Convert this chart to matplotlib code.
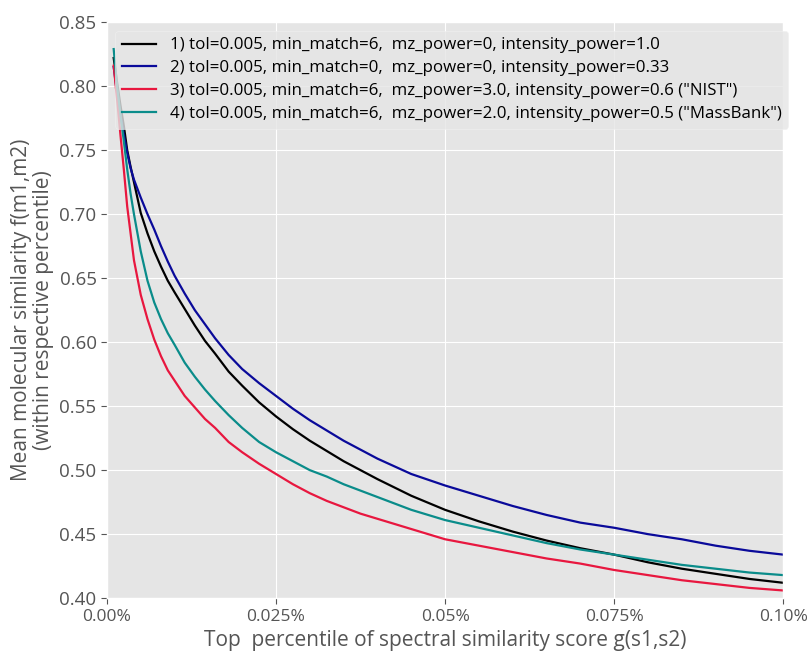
import matplotlib
matplotlib.use("Agg")
import matplotlib.pyplot as plt

# top percentile (in %) and mean molecular similarity for each setting
percentile = [0.001, 0.0015, 0.002, 0.0025, 0.003, 0.0035, 0.004, 0.005, 0.006, 0.007,
              0.008, 0.009, 0.010, 0.0115, 0.013, 0.0145, 0.016, 0.018, 0.020, 0.0225,
              0.025, 0.0275, 0.030, 0.0325, 0.035, 0.0375, 0.040, 0.045, 0.050, 0.055,
              0.060, 0.065, 0.070, 0.075, 0.080, 0.085, 0.090, 0.095, 0.100]
sim_default = [0.822, 0.803, 0.785, 0.769, 0.750, 0.737, 0.725, 0.701, 0.685, 0.671,
               0.659, 0.648, 0.639, 0.626, 0.613, 0.601, 0.591, 0.577, 0.566, 0.553,
               0.542, 0.532, 0.523, 0.515, 0.507, 0.500, 0.493, 0.480, 0.469, 0.460,
               0.452, 0.445, 0.439, 0.434, 0.428, 0.423, 0.419, 0.415, 0.412]
sim_power033 = [0.815, 0.795, 0.777, 0.762, 0.748, 0.736, 0.727, 0.713, 0.700, 0.688,
                0.675, 0.663, 0.652, 0.638, 0.625, 0.614, 0.603, 0.590, 0.579, 0.568,
                0.558, 0.548, 0.539, 0.531, 0.523, 0.516, 0.509, 0.497, 0.488, 0.480,
                0.472, 0.465, 0.459, 0.455, 0.450, 0.446, 0.441, 0.437, 0.434]
sim_nist = [0.816, 0.790, 0.762, 0.735, 0.706, 0.685, 0.664, 0.637, 0.618, 0.602,
            0.589, 0.578, 0.570, 0.558, 0.549, 0.540, 0.533, 0.522, 0.514, 0.505,
            0.497, 0.489, 0.482, 0.476, 0.471, 0.466, 0.462, 0.454, 0.446, 0.441,
            0.436, 0.431, 0.427, 0.422, 0.418, 0.414, 0.411, 0.408, 0.406]
sim_massbank = [0.829, 0.800, 0.778, 0.757, 0.735, 0.716, 0.700, 0.671, 0.648, 0.631,
                0.618, 0.607, 0.598, 0.584, 0.573, 0.563, 0.554, 0.543, 0.533, 0.522,
                0.514, 0.507, 0.500, 0.495, 0.489, 0.484, 0.479, 0.469, 0.461, 0.455,
                0.449, 0.443, 0.438, 0.434, 0.430, 0.426, 0.423, 0.420, 0.418]

labels = [
    '1) tol=0.005, min_match=6,  mz_power=0, intensity_power=1.0',
    '2) tol=0.005, min_match=0,  mz_power=0, intensity_power=0.33',
    '3) tol=0.005, min_match=6,  mz_power=3.0, intensity_power=0.6 ("NIST")',
    '4) tol=0.005, min_match=6,  mz_power=2.0, intensity_power=0.5 ("MassBank")',
]
xticks = [0, 0.025, 0.05, 0.075, 0.1]
xticklabels = ['0.00%', '0.025%', '0.05%', '0.075%', '0.10%']
yticks = [0.40, 0.45, 0.50, 0.55, 0.60, 0.65, 0.70, 0.75, 0.80, 0.85]

plt.style.use('ggplot')
plt.rcParams['font.family'] = ['Open Sans', 'DejaVu Sans']

fig, ax = plt.subplots(figsize=(8.1, 6.53), dpi=100)
fig.subplots_adjust(left=0.132, right=0.967, top=0.966, bottom=0.084)

colors = ['black', '#0a0a9a', '#e8173f', '#0a8c8a']
for ys, c, lab in zip([sim_default, sim_power033, sim_nist, sim_massbank], colors, labels):
    ax.plot(percentile, ys, color=c, lw=1.6, label=lab)

ax.set_xlim(0, 0.1)
ax.set_ylim(0.40, 0.85)
ax.set_xticks(xticks)
ax.set_xticklabels(xticklabels)
ax.set_yticks(yticks)
ax.set_yticklabels([f'{v:.2f}' for v in yticks])
ax.tick_params(axis='x', labelsize=12.5)
ax.tick_params(axis='y', labelsize=13.5)
ax.tick_params(colors='#555555', labelcolor='#555555', length=4)
ax.set_xlabel('Top  percentile of spectral similarity score g(s1,s2)', fontsize=15, color='#555555')
ax.set_ylabel('Mean molecular similarity f(m1,m2)\n(within respective percentile)',
              fontsize=15, color='#555555', linespacing=1.05)

ax.legend(loc='upper left', fontsize=12.2, handlelength=2.0, labelspacing=0.4,
          borderaxespad=0.5, framealpha=0.8, facecolor='#e5e5e5', edgecolor='#f0f0f0')

plt.savefig('out.png')
